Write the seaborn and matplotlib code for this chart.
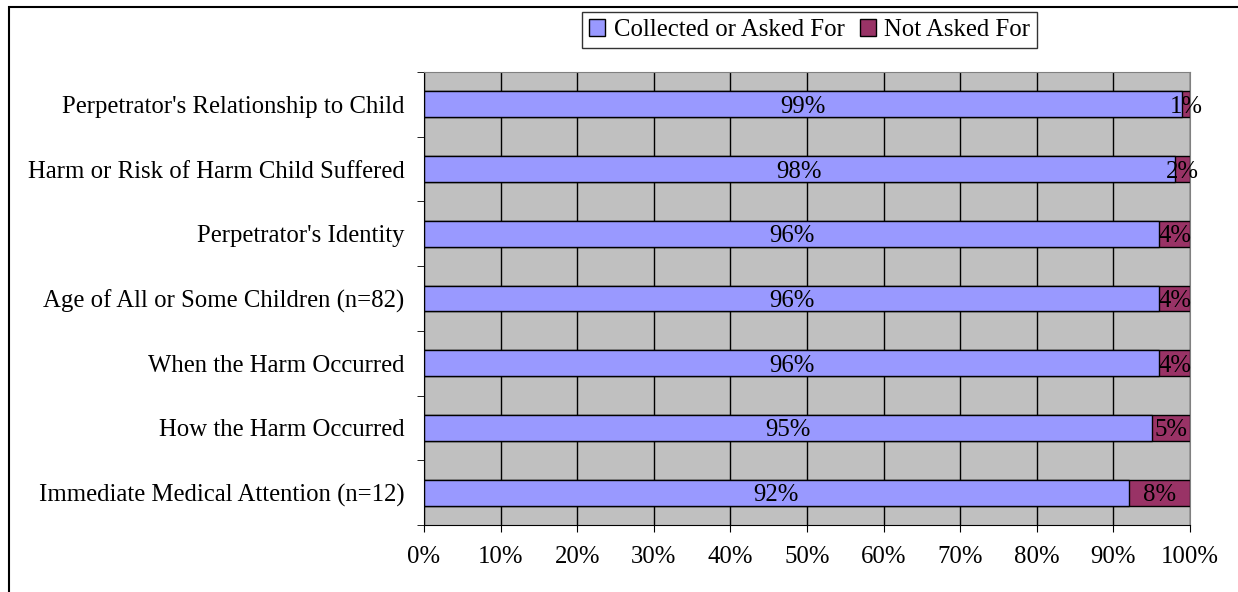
import numpy as np
import pandas as pd
import seaborn as sns
import matplotlib.pyplot as plt
from matplotlib.patches import Rectangle, Patch

categories = [
    "Perpetrator's Relationship to Child",
    "Harm or Risk of Harm Child Suffered",
    "Perpetrator's Identity",
    "Age of All or Some Children (n=82)",
    "When the Harm Occurred",
    "How the Harm Occurred",
    "Immediate Medical Attention (n=12)",
]
collected = [99, 98, 96, 96, 96, 95, 92]
not_asked = [1, 2, 4, 4, 4, 5, 8]
xticks = np.arange(0, 101, 10)

blue = "#9999FF"
maroon = "#993366"

sns.set_style("white")
plt.rcParams["font.family"] = ["Liberation Serif", "DejaVu Serif"]
plt.rcParams["text.color"] = "black"
plt.rcParams["xtick.color"] = "black"
plt.rcParams["ytick.color"] = "black"
plt.rcParams["axes.labelcolor"] = "black"
fs = 17.8

df = pd.DataFrame({"cat": categories, "collected": collected,
                   "total": np.array(collected) + np.array(not_asked)})

fig = plt.figure(figsize=(12.38, 5.92), dpi=100)
ax = fig.add_axes([0.3425, 0.1132, 0.9612 - 0.3425, 0.8784 - 0.1132])
ax.set_facecolor("#C0C0C0")

# stacked bars: draw the total first, then the collected part on top
sns.barplot(data=df, y="cat", x="total", color=maroon, edgecolor="black",
            linewidth=1, width=0.4, orient="h", ax=ax, saturation=1)
sns.barplot(data=df, y="cat", x="collected", color=blue, edgecolor="black",
            linewidth=1, width=0.4, orient="h", ax=ax, saturation=1)

for i, (c, n) in enumerate(zip(collected, not_asked)):
    ax.text(c / 2, i, f"{c}%", ha="center", va="center_baseline", fontsize=fs)
    ax.text(c + n / 2, i, f"{n}%", ha="center", va="center_baseline", fontsize=fs)

ax.set_xlim(0, 100)
ax.set_ylim(len(categories) - 0.5, -0.5)
ax.set_xticks(xticks)
ax.set_xticklabels([f"{t}%" for t in xticks], fontsize=fs)
ax.xaxis.grid(True, color="black", linewidth=1)
ax.set_axisbelow(True)
ax.set_xlabel("")
ax.set_ylabel("")
ax.set_yticks(range(len(categories)))
ax.set_yticklabels(categories, fontsize=fs)
ax.set_yticks(np.arange(-0.5, len(categories), 1), minor=True)
ax.tick_params(axis="y", which="major", length=0, pad=14)
ax.tick_params(axis="y", which="minor", length=5, direction="out", color="black", left=True)
ax.tick_params(axis="x", length=5, direction="out", color="black", bottom=True, pad=10)

for s in ["top", "right"]:
    ax.spines[s].set_color("#808080")
for s in ["left", "bottom"]:
    ax.spines[s].set_color("black")

handles = [Patch(facecolor=blue, edgecolor="black", label="Collected or Asked For"),
           Patch(facecolor=maroon, edgecolor="black", label="Not Asked For")]
fig.legend(handles=handles, loc="center", bbox_to_anchor=(0.654, 0.949), ncol=2,
           fontsize=fs, frameon=True, fancybox=False, edgecolor="black",
           handlelength=0.65, handleheight=0.65, handletextpad=0.35, columnspacing=0.6,
           borderpad=0.28, borderaxespad=0)

fig.add_artist(Rectangle((9 / 1238, -0.2), 1.2, 1.188, transform=fig.transFigure,
                         fill=False, edgecolor="black", linewidth=1.5))

fig.savefig("out.png", dpi=100)
